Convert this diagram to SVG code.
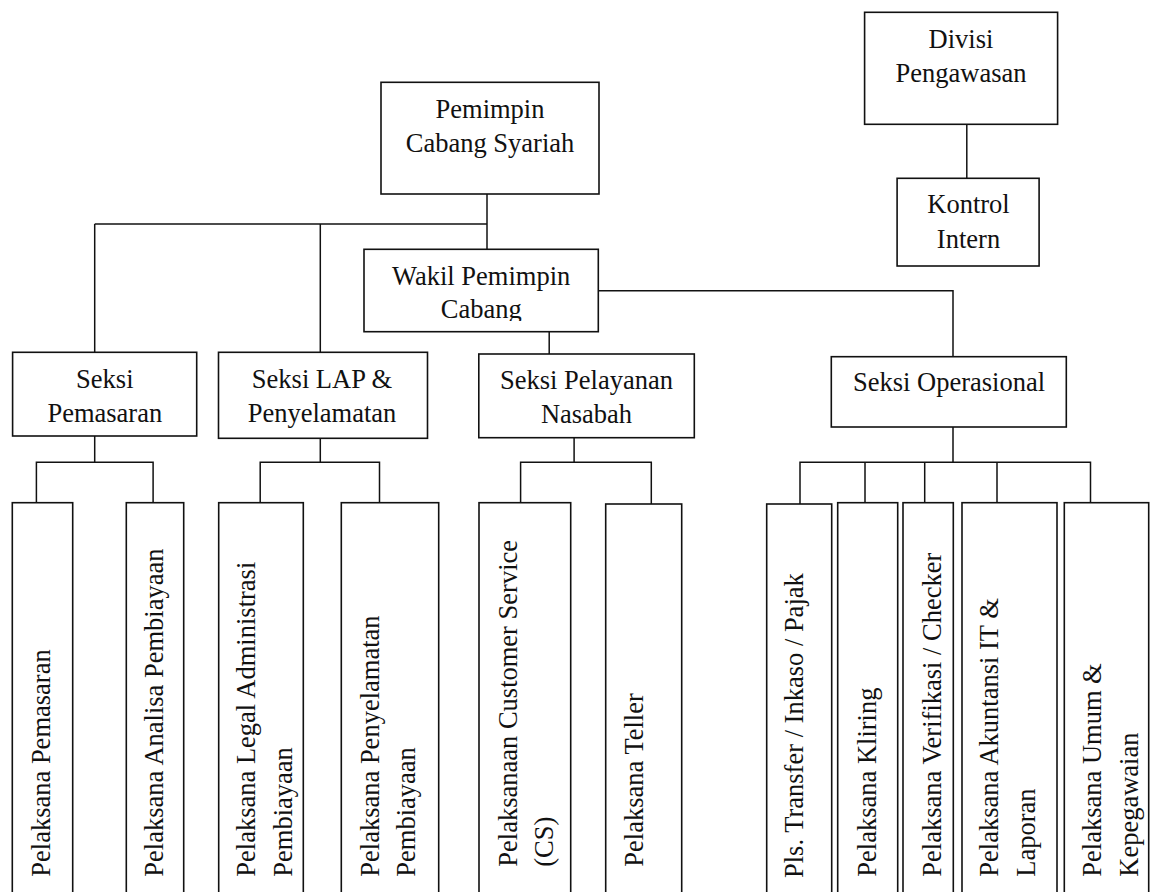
<svg xmlns="http://www.w3.org/2000/svg" width="1150" height="892" viewBox="0 0 1150 892">
<style>
.box{fill:#fff;stroke:#111;stroke-width:1.6}
.ln{fill:none;stroke:#111;stroke-width:1.5}
text{font-family:"Liberation Serif","Times New Roman",serif;font-size:26.5px;fill:#111}
.c{text-anchor:middle}
</style>
<defs>
<clipPath id="wclip"><rect x="364" y="249" width="235" height="72"/></clipPath>
</defs>
<rect width="1150" height="892" fill="#fff"/>
<g id="connectors">
<path class="ln" d="M487,194 V249.3"/>
<path class="ln" d="M94.7,224 H487"/>
<path class="ln" d="M94.7,224 V352.3"/>
<path class="ln" d="M320.3,224 V352.3"/>
<path class="ln" d="M549.2,331.7 V354"/>
<path class="ln" d="M598.3,290.7 H953 V356.7"/>
<path class="ln" d="M966.8,124.3 V178.3"/>
<path class="ln" d="M94.7,436 V462.3 M36.4,502.7 V462.3 H153.1 V502.7"/>
<path class="ln" d="M320.3,438.3 V462.3 M260.2,502.7 V462.3 H379.5 V502.7"/>
<path class="ln" d="M574.1,437.7 V462.3 M520.6,502.7 V462.3 H651.3 V504"/>
<path class="ln" d="M953,427 V462.3 M800,504 V462.3 H1090.5 V502.7 M865,462.3 V502.7 M924.7,462.3 V502.7 M997,462.3 V502.7"/>
</g>
<g id="pemimpin">
<rect class="box" x="381" y="82.3" width="218" height="111.7"/>
<text class="c" x="490" y="118.3">Pemimpin</text>
<text class="c" x="490" y="151.7">Cabang Syariah</text>
</g>
<g id="wakil">
<rect class="box" x="364" y="249.3" width="234.3" height="82.4"/>
<g clip-path="url(#wclip)">
<text class="c" x="481.2" y="285">Wakil Pemimpin</text>
<text class="c" x="481.2" y="318.3">Cabang</text>
</g>
</g>
<g id="divisi">
<rect class="box" x="864.6" y="12.3" width="193" height="112"/>
<text class="c" x="961" y="47.7">Divisi</text>
<text class="c" x="961" y="81.7">Pengawasan</text>
</g>
<g id="kontrol">
<rect class="box" x="897.1" y="178.3" width="142" height="87.7"/>
<text class="c" x="968.5" y="213.3">Kontrol</text>
<text class="c" x="968.5" y="247.7">Intern</text>
</g>
<g id="seksi-pemasaran">
<rect class="box" x="12.6" y="352.3" width="184.1" height="83.7"/>
<text class="c" x="104.8" y="388.3">Seksi</text>
<text class="c" x="104.8" y="421.7">Pemasaran</text>
</g>
<g id="seksi-lap">
<rect class="box" x="218.5" y="352.3" width="209" height="86"/>
<text class="c" x="322" y="388.3">Seksi LAP &amp;</text>
<text class="c" x="322" y="421.7">Penyelamatan</text>
</g>
<g id="seksi-pelayanan">
<rect class="box" x="478.8" y="354" width="215.5" height="83.7"/>
<text class="c" x="586.5" y="389">Seksi Pelayanan</text>
<text class="c" x="586.5" y="423.3">Nasabah</text>
</g>
<g id="seksi-operasional">
<rect class="box" x="831.3" y="356.7" width="235" height="70.3"/>
<text class="c" x="949" y="391">Seksi Operasional</text>
</g>
<g id="pelaksana-pemasaran">
<rect class="box" x="12.3" y="502.7" width="60.4" height="400"/>
<text transform="translate(50,876.7) rotate(-90)">Pelaksana Pemasaran</text>
</g>
<g id="pelaksana-analisa">
<rect class="box" x="126.3" y="502.7" width="57.4" height="400"/>
<text transform="translate(163.3,876.7) rotate(-90)">Pelaksana Analisa Pembiayaan</text>
</g>
<g id="pelaksana-legal">
<rect class="box" x="218.7" y="502.7" width="84.6" height="400"/>
<text transform="translate(255,876.7) rotate(-90)">Pelaksana Legal  Administrasi</text>
<text transform="translate(291.7,876.7) rotate(-90)">Pembiayaan</text>
</g>
<g id="pelaksana-penyelamatan">
<rect class="box" x="341.3" y="502.7" width="97.4" height="400"/>
<text transform="translate(379.3,876.7) rotate(-90)">Pelaksana Penyelamatan</text>
<text transform="translate(415,876.7) rotate(-90)">Pembiayaan</text>
</g>
<g id="pelaksana-cs">
<rect class="box" x="479" y="502.7" width="91.7" height="400"/>
<text transform="translate(516.7,866.7) rotate(-90)">Pelaksanaan Customer Service</text>
<text transform="translate(553.3,866.7) rotate(-90)">(CS)</text>
</g>
<g id="pelaksana-teller">
<rect class="box" x="605.7" y="504" width="76" height="400"/>
<text transform="translate(643.3,866.7) rotate(-90)">Pelaksana Teller</text>
</g>
<g id="pls-transfer">
<rect class="box" x="766.7" y="504" width="65" height="400"/>
<text transform="translate(802.7,878) rotate(-90)">Pls. Transfer / Inkaso / Pajak</text>
</g>
<g id="pelaksana-kliring">
<rect class="box" x="837.7" y="502.7" width="60" height="400"/>
<text transform="translate(876,876.7) rotate(-90)">Pelaksana Kliring</text>
</g>
<g id="pelaksana-verifikasi">
<rect class="box" x="903" y="502.7" width="50.3" height="400"/>
<text transform="translate(940.7,876.7) rotate(-90)">Pelaksana Verifikasi / Checker</text>
</g>
<g id="pelaksana-akuntansi">
<rect class="box" x="962" y="502.7" width="95" height="400"/>
<text transform="translate(998.3,876.7) rotate(-90)">Pelaksana Akuntansi IT &amp;</text>
<text transform="translate(1035,876.7) rotate(-90)">Laporan</text>
</g>
<g id="pelaksana-umum">
<rect class="box" x="1064.3" y="502.7" width="84.4" height="400"/>
<text transform="translate(1101,876.7) rotate(-90)">Pelaksana Umum &amp;</text>
<text transform="translate(1137.7,876.7) rotate(-90)">Kepegawaian</text>
</g>
</svg>
